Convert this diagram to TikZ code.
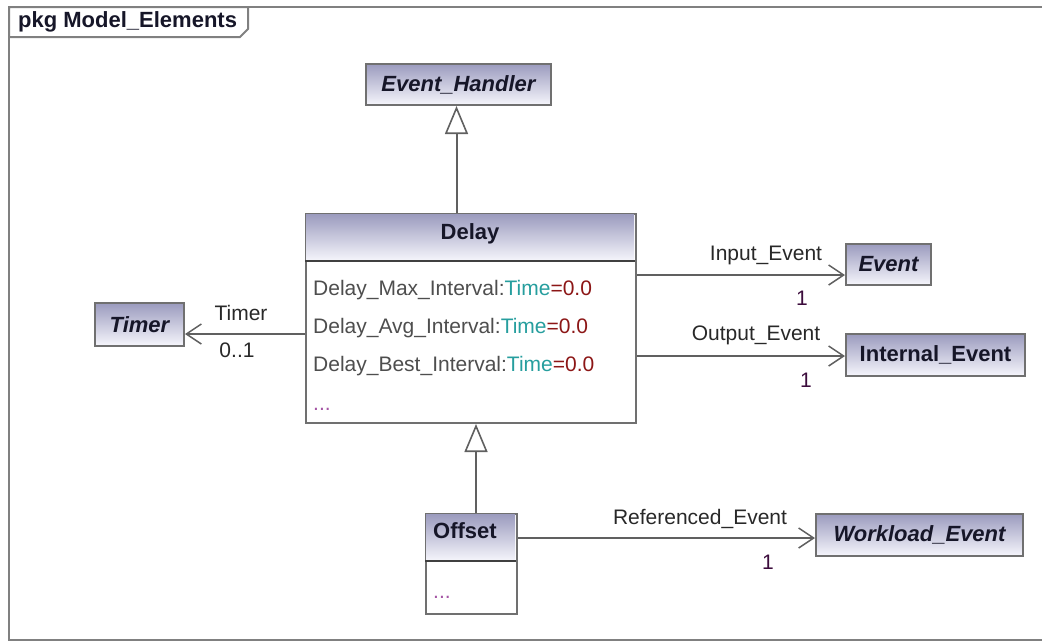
\documentclass[tikz,border=0pt]{standalone}
\usepackage{fontspec}
\setmainfont{Liberation Sans}
\usetikzlibrary{arrows.meta}

\definecolor{framegray}{RGB}{128,128,128}
\definecolor{boxgray}{RGB}{112,112,112}
\definecolor{linegray}{RGB}{96,96,96}
\definecolor{hdrtop}{RGB}{155,155,190}
\definecolor{hdrbot}{RGB}{246,246,252}
\definecolor{nametext}{RGB}{22,22,40}
\definecolor{attrtext}{RGB}{78,78,78}
\definecolor{typetext}{RGB}{38,158,158}
\definecolor{valtext}{RGB}{140,22,22}
\definecolor{dottext}{RGB}{165,85,165}
\definecolor{multtext}{RGB}{60,12,60}
\definecolor{roletext}{RGB}{40,40,40}

\newcommand{\clsfont}{\fontsize{22}{26}\selectfont\bfseries}
\newcommand{\txtfont}{\fontsize{21}{25}\selectfont}

\begin{document}
\begin{tikzpicture}[x=1pt,y=-1pt,
  hdr/.style={top color=hdrtop, bottom color=hdrbot},
  cls/.style={draw=boxgray, line width=2pt, hdr, inner sep=0pt,
              text=nametext, font=\clsfont, anchor=north west},
  body/.style={draw=boxgray, line width=2pt, fill=white, inner sep=0pt,
               anchor=north west},
  sepline/.style={draw=black!75, line width=2pt},
  gen/.style={draw=linegray, line width=2pt,
              -{Triangle[open, length=28pt, width=23pt, line width=1.6pt]}},
  assoc/.style={draw=linegray, line width=2pt,
                -{Straight Barb[length=15pt, width=20pt, line width=1.5pt]}},
  role/.style={font=\txtfont, text=roletext, inner sep=0pt},
  mult/.style={font=\txtfont, text=multtext, inner sep=0pt},
  attr/.style={font=\txtfont, inner sep=0pt, anchor=west},
  dots/.style={font=\txtfont, text=dottext, inner sep=0pt, anchor=base west}
]
\useasboundingbox (0,0) rectangle (1042,641);

% package frame and its name tab
\draw[framegray, line width=2pt] (1046,7) -- (9,7) -- (9,639.5) -- (1046,639.5);
\draw[framegray, line width=2pt, fill=white]
  (9,7) -- (248,7) -- (248,29) -- (240,37) -- (9,37) -- cycle;
\node[font=\clsfont, text=nametext, inner sep=0pt, anchor=west] (pkg) at (18,22)
  {pkg Model\_Elements};

% class Delay with its attribute compartment
\node[body, minimum width=330pt, minimum height=209pt] (delay) at (305,213) {};
\shade[hdr] (306,214) rectangle (634,261);
\draw[sepline] (305,261) -- (635,261);
\node[font=\clsfont, text=nametext, inner sep=0pt] (delayname) at (470,234) {Delay};
\node[attr] (a1) at (313,290) {\color{attrtext}Delay\_Max\_Interval:\color{typetext}Time\color{valtext}=0.0};
\node[attr] (a2) at (313,328) {\color{attrtext}Delay\_Avg\_Interval:\color{typetext}Time\color{valtext}=0.0};
\node[attr] (a3) at (313,366) {\color{attrtext}Delay\_Best\_Interval:\color{typetext}Time\color{valtext}=0.0};
\node[dots] (a4) at (313,410) {...};

% class Offset
\node[body, minimum width=91pt, minimum height=100pt] (offset) at (425,513) {};
\shade[hdr] (426,514) rectangle (515,561);
\draw[sepline] (425,561) -- (516,561);
\node[font=\clsfont, text=nametext, inner sep=0pt, anchor=west] (offsetname) at (433,531) {Offset};
\node[dots] (o1) at (433,598) {...};

% simple classes
\node[cls, minimum width=185pt, minimum height=41pt] (eh) at (365,63) {\itshape Event\_Handler};
\node[cls, minimum width=89pt, minimum height=43pt] (timer) at (94,302) {\itshape Timer};
\node[cls, minimum width=85pt, minimum height=41pt] (event) at (845,243) {\itshape Event};
\node[cls, minimum width=179pt, minimum height=42pt] (ievent) at (845,333) {Internal\_Event};
\node[cls, minimum width=207pt, minimum height=42pt] (wevent) at (815,513) {\itshape Workload\_Event};

% generalisations
\coordinate (ehbot) at ([xshift=-2pt]eh.south);
\draw[gen] (ehbot |- delay.north) -- (ehbot);
\coordinate (offtop) at ([xshift=4.5pt]offset.north);
\draw[gen] (offtop) -- (offtop |- delay.south);

% directed associations
\coordinate (tmP) at ([yshift=-9.5pt]timer.east);
\coordinate (evP) at ([yshift=-10.5pt]event.west);
\coordinate (ieP) at ([yshift=-1pt]ievent.west);
\coordinate (weP) at ([yshift=-3pt]wevent.west);
\draw[assoc] (delay.west |- tmP) -- (tmP);
\draw[assoc] (delay.east |- evP) -- (evP);
\draw[assoc] (delay.east |- ieP) -- (ieP);
\draw[assoc] (offset.east |- weP) -- (weP);

% role names and multiplicities
\node[role] (rTimer) at (241,313) {Timer};
\node[role] (mTimer) at (237,350) {0..1};
\node[role] (rIn) at (766,255) {Input\_Event};
\node[mult] (mIn) at (802,298) {1};
\node[role] (rOut) at (756,335) {Output\_Event};
\node[mult] (mOut) at (806,380) {1};
\node[role] (rRef) at (700,519) {Referenced\_Event};
\node[mult] (mRef) at (768,562) {1};
\end{tikzpicture}
\end{document}
